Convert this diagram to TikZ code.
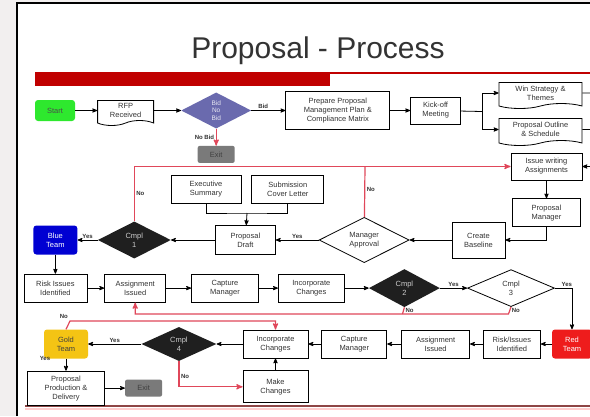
\documentclass[tikz,border=0pt]{standalone}
\usepackage{fontspec}
\setmainfont{Liberation Sans}
\usetikzlibrary{arrows,positioning,shapes.geometric,shapes.symbols}
\definecolor{startgreen}{HTML}{2EE82E}
\definecolor{bidblue}{HTML}{6A6AAE}
\definecolor{exitgrey}{HTML}{7A7A7A}
\definecolor{blueteam}{HTML}{0000D2}
\definecolor{goldteam}{HTML}{F4C414}
\definecolor{redteam}{HTML}{EE1C1C}
\definecolor{barred}{HTML}{C00000}
\definecolor{nored}{HTML}{E0475A}
\definecolor{slidegrey}{HTML}{F2EFEF}
\definecolor{rulered}{HTML}{8E4646}

\begin{document}
\begin{tikzpicture}[x=1pt,y=-1pt,
	box/.style={rectangle,draw,thick,inner sep=1pt,minimum width=65pt,minimum height=28pt,align=center,font=\fontsize{7.5}{9}\selectfont,text=black!80},
	doc/.style={tape,tape bend top=none,tape bend height=5pt,draw,thick,inner sep=1pt,align=center,font=\fontsize{7.5}{9}\selectfont,text=black!80},
	team/.style={rectangle,rounded corners=3pt,inner sep=1pt,minimum width=44pt,minimum height=29pt,align=center,font=\fontsize{7.5}{9}\selectfont,text=white},
	exitbox/.style={rectangle,rounded corners=2pt,fill=exitgrey,inner sep=1pt,minimum width=37pt,minimum height=17pt,font=\fontsize{7.5}{9}\selectfont,text=black!75},
	check/.style={diamond,fill=black!88,inner sep=0pt,align=center,font=\fontsize{7.5}{9}\selectfont,text=white!80!black},
	ask/.style={diamond,draw,thick,fill=white,inner sep=0pt,align=center,font=\fontsize{7.5}{9}\selectfont,text=black!80},
	paths/.style={->,thick,>=stealth'},
	nopaths/.style={->,very thick,>=stealth',draw=nored},
	noseg/.style={very thick,draw=nored},
	lbl/.style={font=\fontsize{6}{6.5}\selectfont\bfseries,inner sep=1.5pt,text=black!80}
	]
\useasboundingbox (0,0) rectangle (590,416);

% slide
\fill [slidegrey] (0,0) rectangle (590,416);
\fill [white] (17,3) rectangle (590,416);
\draw [line width=1.6pt] (17,416) |- (590,3);
\node [text=black!80] (title) at (318,51) {\fontsize{30}{34}\selectfont Proposal - Process};
\fill [barred] (35,72) rectangle (330,86);
\draw [barred, line width=1.2pt] (330,73) -- (590,73);
\draw [red!20, line width=2pt] (25,409) -- (590,409);
\draw [rulered, line width=1.5pt] (25,406) -- (590,406);

% first row
\node [team, fill=startgreen, minimum width=40pt, minimum height=21pt, text=black!70] at (55,110.5) (start) {Start};
\node [doc, minimum width=56pt, minimum height=25pt] (rfp) [right =22pt of start] {RFP\\Received};
\node [diamond, fill=bidblue, inner sep=0pt, minimum width=70pt, minimum height=36pt, align=center,
       font=\fontsize{6.5}{7.5}\selectfont, text=white!85!bidblue] (bid) [right =27pt of rfp] {Bid\\No\\Bid};
\node [exitbox] (exit1) [below =17pt of bid] {Exit};
\node [box, minimum width=104pt, minimum height=38pt] (plan) [right =34pt of bid] {Prepare Proposal\\Management Plan \&\\Compliance Matrix};
\node [box, minimum width=50pt, minimum height=27pt] (kick) [right =20pt of plan] {Kick-off\\Meeting};
\coordinate (split) at (482,111.5);
\node [doc, minimum width=83pt, minimum height=26pt] at (540.5,93) (win) {Win Strategy \&\\Themes};
\node [doc, minimum width=83pt, minimum height=27pt] at (540.5,129.5) (outline) {Proposal Outline\\\& Schedule};
\coordinate (w2) at (592,93);
\coordinate (o2) at (592,129.5);

% second row
\node [box, minimum width=71pt, minimum height=27pt] at (546.5,166.5) (issue) {Issue writing\\Assignments};
\coordinate (i2) at (592,166.5);
\node [box, minimum width=68pt] (pm) [below =18pt of issue] {Proposal\\Manager};
\node [box, minimum width=53pt, minimum height=36pt] at (478.5,240) (base) {Create\\Baseline};
\node [ask, minimum width=90pt, minimum height=35pt] (appr) [left =42pt of base] {Manager\\Approval};
\node [box, minimum width=60pt, minimum height=29pt] (draft) [left =43pt of appr] {Proposal\\Draft};
\node [check, minimum width=73pt, minimum height=37pt] (cmpl1) [left =44pt of draft] {Cmpl\\1};
\node [team, fill=blueteam] (blue) [left =20pt of cmpl1] {Blue\\Team};
\node [box, minimum width=70pt] at (206,189) (exec) {Executive\\Summary};
\node [box, minimum width=72pt] (cover) [right =10pt of exec] {Submission\\Cover Letter};
\coordinate (j2) at (247,213);
\coordinate (j1) at (365,166.5);

% third row
\node [box, minimum width=63pt] (risk1) [below =19pt of blue] {Risk Issues\\Identified};
\node [box, minimum width=61pt] (assign1) [right =17pt of risk1] {Assignment\\Issued};
\node [box, minimum width=67pt] (capture1) [right =25pt of assign1] {Capture\\Manager};
\node [box, minimum width=66pt] (incorp1) [right =19pt of capture1] {Incorporate\\Changes};
\node [check, minimum width=71pt, minimum height=38pt] (cmpl2) [right =24pt of incorp1] {Cmpl\\2};
\node [ask, minimum width=87pt, minimum height=37pt] (cmpl3) [right =27pt of cmpl2] {Cmpl\\3};
\coordinate (r1) at (508.5,314);
\coordinate (r2) at (402.5,314);

% fourth row
\node [team, fill=redteam, minimum width=40pt] at (572,344) (red) {Red\\Team};
\node [box, minimum width=57pt] (riskb) [left =11pt of red] {Risk/Issues\\Identified};
\node [box, minimum width=68pt] (assignb) [left =13pt of riskb] {Assignment\\Issued};
\node [box] (captureb) [left =14pt of assignb] {Capture\\Manager};
\node [box] (incorpb) [left =13pt of captureb] {Incorporate\\Changes};
\node [check, minimum width=75pt, minimum height=34pt] (cmpl4) [left =26pt of incorpb] {Cmpl\\4};
\node [team, fill=goldteam, text=black!75] (gold) [left =53pt of cmpl4] {Gold\\Team};
\node [box, minimum height=32pt] (make) [below =12pt of incorpb] {Make\\Changes};
\node [box, minimum width=77pt, minimum height=34pt] (prod) [below =12pt of gold] {Proposal\\Production \&\\Delivery};
\node [exitbox] (exit2) [right =20pt of prod] {Exit};
\coordinate (r3) at (70,321);

% first row paths
\draw [paths] (start) -- (rfp);
\draw [paths] (rfp) -- (bid);
\draw [paths] (bid) -- node [lbl, above, pos=0.35] {Bid} (plan);
\draw [nopaths] (bid) -- node [lbl, left] {No Bid} (exit1);
\draw [paths] (plan) -- (kick);
\draw [thick] (kick) -- (split);
\draw [paths] (split) |- (win);
\draw [paths] (split) |- (outline);
\draw [thick] (win) -- (w2);
\draw [thick] (outline) -- (o2);

% second row paths
\draw [paths] (i2) -- (issue);
\draw [paths] (issue) -- (pm);
\draw [paths] (pm.south) |- (base);
\draw [paths] (base) -- (appr);
\draw [paths] (appr) -- node [lbl, above] {Yes} (draft);
\draw [noseg] (appr) -- node [lbl, right, pos=0.55] {No} (j1);
\draw [nopaths] (cmpl1.north) |- node [lbl, right, pos=0.25] {No} (issue.west);
\draw [thick] (exec.south) |- (j2) -| (cover.south);
\draw [paths] (j2) -- (draft);
\draw [paths] (draft) -- (cmpl1);
\draw [paths] (cmpl1) -- node [lbl, above] {Yes} (blue);
\draw [paths] (blue) -- (risk1);

% third row paths
\draw [paths] (risk1) -- (assign1);
\draw [paths] (assign1) -- (capture1);
\draw [paths] (capture1) -- (incorp1);
\draw [paths] (incorp1) -- (cmpl2);
\draw [paths] (cmpl2) -- node [lbl, above] {Yes} (cmpl3);
\draw [paths] (cmpl3.east) -| node [lbl, above, pos=0.35] {Yes} (red.north);
\draw [noseg] (cmpl2.south) -- node [lbl, right] {No} (r2);
\draw [nopaths] (cmpl3.south) -- node [lbl, right] {No} (r1) -| (assign1.south);

% fourth row paths
\draw [paths] (red) -- (riskb);
\draw [paths] (riskb) -- (assignb);
\draw [paths] (assignb) -- (captureb);
\draw [paths] (captureb) -- (incorpb);
\draw [paths] (incorpb) -- (cmpl4);
\draw [paths] (cmpl4) -- node [lbl, above] {Yes} (gold);
\draw [nopaths] (cmpl4.south) |- node [lbl, right, pos=0.3] {No} (make.west);
\draw [paths] (make) -- (incorpb);
\draw [nopaths] (gold.north) -- (r3) node [lbl, above left] {No} -| (incorpb.north);
\draw [paths] (gold) -- node [lbl, left=14pt, pos=0] {Yes} (prod);
\draw [paths] (prod) -- (exit2);
\end{tikzpicture}
\end{document}
